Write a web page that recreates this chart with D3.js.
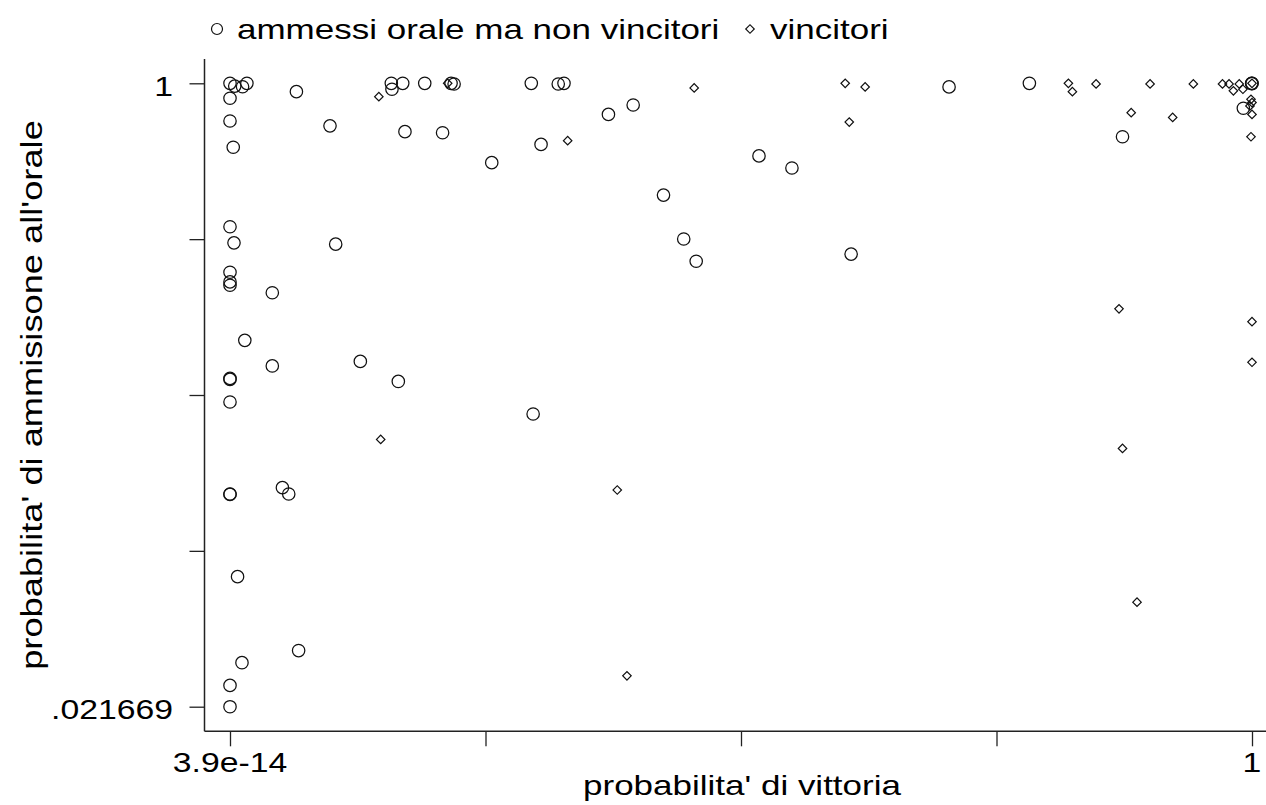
<!DOCTYPE html>
<html>
<head>
<meta charset="utf-8">
<script src="https://cdn.jsdelivr.net/npm/d3@7"></script>
<style>
  body { margin: 0; background: #fff; }
  text { font-family: "Liberation Sans", Arial, sans-serif; fill: #000; }
</style>
</head>
<body>
<svg id="chart" width="1266" height="805"></svg>
<script>
// ammessi orale ma non vincitori: [prob. vittoria, prob. ammissione orale]
var nonVincitori = [
  [3.9e-14, 1], [4.5e-14, 0.983], [5.7e-14, 0.979], [6.5e-14, 1], [2.9e-13, 0.95],
  [3.9e-14, 0.912], [3.9e-14, 0.793], [8.0e-13, 0.77], [4.3e-14, 0.675], [3.9e-14, 0.414],
  [4.4e-14, 0.375], [9.5e-13, 0.372], [3.9e-14, 0.313], [3.9e-14, 0.295], [3.9e-14, 0.289],
  [1.4e-13, 0.276], [6.1e-14, 0.206], [1.4e-13, 0.176], [3.9e-14, 0.163], [3.9e-14, 0.162],
  [3.9e-14, 0.141], [1.9e-13, 0.0833], [2.3e-13, 0.0801], [3.9e-14, 0.0801], [3.9e-14, 0.0799],
  [4.9e-14, 0.0482], [3.1e-13, 0.0306], [5.6e-14, 0.0284], [3.9e-14, 0.0247], [3.9e-14, 0.021669],
  [5.1e-12, 1], [5.2e-12, 0.964], [7.2e-12, 1], [1.4e-11, 1], [3.1e-11, 1],
  [3.4e-11, 0.996], [3.5e-10, 1], [7.9e-10, 0.996], [9.4e-10, 1], [3.6e-9, 0.826],
  [7.6e-9, 0.875], [7.7e-12, 0.743], [2.4e-11, 0.738], [4.7e-10, 0.687], [1.06e-10, 0.614],
  [1.9e-8, 0.503], [3.5e-8, 0.384], [5.1e-8, 0.335], [3.4e-7, 0.64], [9.2e-7, 0.594],
  [5.5e-6, 0.35], [1.06e-4, 0.978], [1.2e-3, 1], [0.02, 0.72], [0.77, 0.858],
  [1, 1], [0.995, 0.998], [0.99, 1], [3.7e-10, 0.131], [6.3e-12, 0.16], [2.0e-12, 0.181]
];

// vincitori
var vincitori = [
  [3.5e-12, 0.921], [2.8e-11, 1], [1.05e-9, 0.703], [4.8e-8, 0.972], [4.6e-6, 1],
  [5.2e-6, 0.788], [8.4e-6, 0.978], [4.7e-9, 0.0821], [6.3e-9, 0.0262], [3.7e-12, 0.112],
  [3.9e-3, 1], [4.4e-3, 0.95], [9.0e-3, 0.996], [0.046, 0.996], [0.17, 0.996],
  [0.41, 0.996], [0.5, 0.996], [0.57, 0.955], [0.68, 0.996], [0.76, 0.964],
  [1, 1], [0.97, 0.906], [1, 0.888], [0.94, 0.87], [1, 0.826],
  [0.97, 0.72], [0.026, 0.835], [0.091, 0.811], [0.018, 0.25], [1, 0.231],
  [1, 0.18], [0.02, 0.106], [0.031, 0.0412]
];

var xDomain = [3.9e-14, 1];
var yDomain = [0.021669, 1];
var xLabels = ["3.9e-14", "", "", "", "1"];
var yLabels = [".021669", "", "", "", "1"];
var legendNames = ["ammessi orale ma non vincitori", "vincitori"];

const svg = d3.select("#chart");
const stretch = 1.25;   // the glyphs are drawn wide in the original

const x = d3.scaleLog().domain(xDomain).range([230, 1252]);
const y = d3.scaleLog().domain(yDomain).range([706.7, 83.3]);

const axisX = 204.5, axisY = 731.3;

function logTicks(dom) {
  var a = Math.log10(dom[0]), b = Math.log10(dom[1]);
  return d3.range(5).map(i => Math.pow(10, a + (b - a) * i / 4));
}
const xTicks = logTicks(xDomain);
const yTicks = logTicks(yDomain);

// axes
svg.append("g")
  .attr("transform", `translate(${axisX},0)`)
  .call(d3.axisLeft(y).tickValues(yTicks).tickFormat("").tickSize(15).tickSizeOuter(0))
  .call(g => g.select(".domain").remove())
  .selectAll("line").attr("stroke", "#222").attr("stroke-width", 1.3);

svg.append("g")
  .attr("transform", `translate(0,${axisY})`)
  .call(d3.axisBottom(x).tickValues(xTicks).tickFormat("").tickSize(15).tickSizeOuter(0))
  .call(g => g.select(".domain").remove())
  .selectAll("line").attr("stroke", "#222").attr("stroke-width", 1.3);

svg.append("line")
  .attr("x1", axisX).attr("x2", axisX).attr("y1", 59).attr("y2", axisY)
  .attr("stroke", "#222").attr("stroke-width", 1.5);
svg.append("line")
  .attr("x1", axisX).attr("x2", 1266).attr("y1", axisY).attr("y2", axisY)
  .attr("stroke", "#222").attr("stroke-width", 1.5);

// tick labels
svg.selectAll(".ylab")
  .data(yTicks)
  .enter().append("text")
    .attr("class", "ylab")
    .attr("transform", d => `translate(173,${y(d) + 12.7}) scale(${stretch},1)`)
    .attr("text-anchor", "end")
    .style("font-size", "27px")
    .text((d, i) => yLabels[i]);

svg.selectAll(".xlab")
  .data(xTicks)
  .enter().append("text")
    .attr("class", "xlab")
    .attr("transform", d => `translate(${x(d)},772) scale(${stretch},1)`)
    .attr("text-anchor", "middle")
    .style("font-size", "27px")
    .text((d, i) => xLabels[i]);

// axis titles
svg.append("text")
  .attr("transform", `translate(742,795) scale(${stretch},1)`)
  .attr("text-anchor", "middle")
  .style("font-size", "28px")
  .text("probabilita' di vittoria");

svg.append("text")
  .attr("transform", `translate(42,395) rotate(-90) scale(${stretch},1)`)
  .attr("text-anchor", "middle")
  .style("font-size", "29px")
  .text("probabilita' di ammisisone all'orale");

// points
const diamond = d3.symbol().type(d3.symbolSquare).size(36);

svg.append("g").selectAll("circle")
  .data(nonVincitori)
  .enter().append("circle")
    .attr("cx", d => x(d[0]))
    .attr("cy", d => y(d[1]))
    .attr("r", 6.2)
    .attr("fill", "none")
    .attr("stroke", "#111")
    .attr("stroke-width", 1.25);

svg.append("g").selectAll("path")
  .data(vincitori)
  .enter().append("path")
    .attr("d", diamond)
    .attr("transform", d => `translate(${x(d[0])},${y(d[1])}) rotate(45)`)
    .attr("fill", "none")
    .attr("stroke", "#111")
    .attr("stroke-width", 1.2);

// legend
var leg = svg.append("g");
leg.append("circle")
  .attr("cx", 217).attr("cy", 29).attr("r", 5.5)
  .attr("fill", "none").attr("stroke", "#111").attr("stroke-width", 1.2);
leg.append("text")
  .attr("transform", `translate(237,39) scale(${stretch},1)`)
  .style("font-size", "28px")
  .text(legendNames[0]);
leg.append("path")
  .attr("d", diamond)
  .attr("transform", "translate(750,29) rotate(45)")
  .attr("fill", "none").attr("stroke", "#111").attr("stroke-width", 1.2);
leg.append("text")
  .attr("transform", `translate(770,39) scale(${stretch},1)`)
  .style("font-size", "28px")
  .text(legendNames[1]);
</script>
</body>
</html>
